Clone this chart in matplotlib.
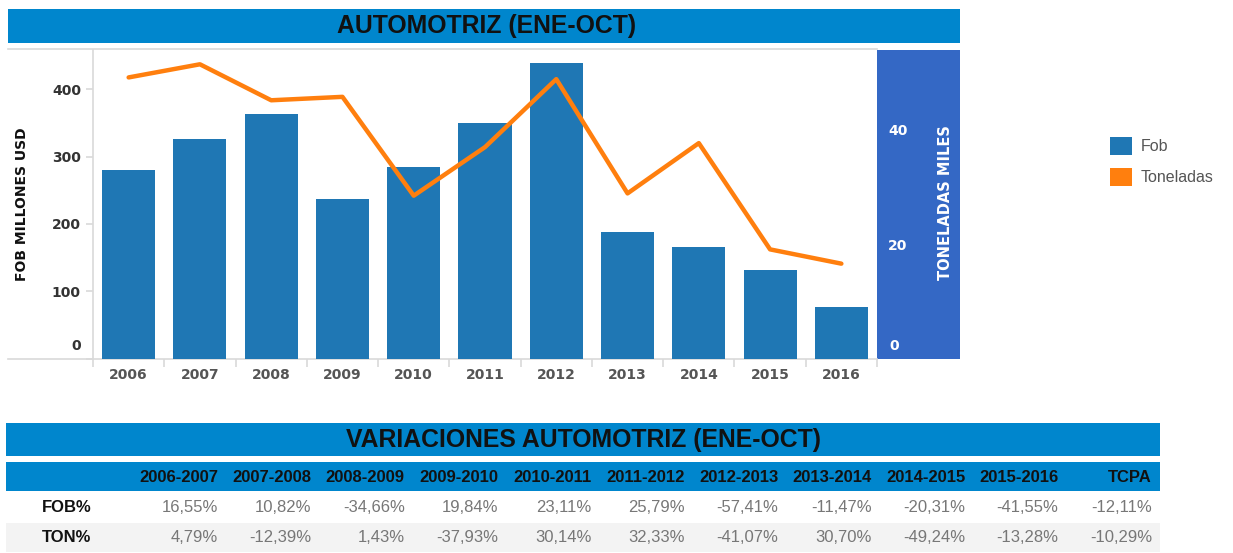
import matplotlib
matplotlib.use("Agg")
import matplotlib.pyplot as plt
from matplotlib.patches import Rectangle, Patch
from matplotlib.lines import Line2D
from matplotlib.ticker import FixedLocator, FuncFormatter

# ---------------- data ----------------
years = ['2006', '2007', '2008', '2009', '2010', '2011', '2012', '2013', '2014', '2015', '2016']
fob = [281, 327, 363, 237, 284, 350, 440, 188, 166, 132, 77]
toneladas = [49.2, 51.5, 45.2, 45.8, 28.5, 37.0, 48.9, 28.9, 37.7, 19.1, 16.6]

periods = ['2006-2007', '2007-2008', '2008-2009', '2009-2010', '2010-2011', '2011-2012',
           '2012-2013', '2013-2014', '2014-2015', '2015-2016', 'TCPA']
fob_var = ['16,55%', '10,82%', '-34,66%', '19,84%', '23,11%', '25,79%',
           '-57,41%', '-11,47%', '-20,31%', '-41,55%', '-12,11%']
ton_var = ['4,79%', '-12,39%', '1,43%', '-37,93%', '30,14%', '32,33%',
           '-41,07%', '30,70%', '-49,24%', '-13,28%', '-10,29%']
row_labels = ['FOB%', 'TON%']

left_ticks = [0, 100, 200, 300, 400]
right_ticks = [0, 20, 40]

# ---------------- figure ----------------
W, H = 1233, 553
fig = plt.figure(figsize=(W / 100, H / 100), dpi=100)
fig.patch.set_facecolor('white')


def fx(x):
    return x / W


def fy(y):
    return 1 - y / H


def frect(x0, y0, x1, y1, color, z=-1):
    r = Rectangle((fx(x0), fy(y1)), fx(x1) - fx(x0), fy(y0) - fy(y1),
                  transform=fig.transFigure, facecolor=color, edgecolor='none', zorder=z)
    fig.add_artist(r)
    return r


def fline(x0, y0, x1, y1, color='#d9d9d9', lw=1.2, z=-0.5):
    fig.add_artist(Line2D([fx(x0), fx(x1)], [fy(y0), fy(y1)], transform=fig.transFigure,
                          color=color, lw=lw, zorder=z))


BAR_BLUE = '#1F77B4'
ORANGE = '#FF7F0E'
TITLE_BLUE = '#0086CD'
PANEL_BLUE = '#3468C5'

# title bar
frect(8, 9.5, 960, 43, TITLE_BLUE)
fig.text(fx(487), fy(26.5), 'AUTOMOTRIZ (ENE-OCT)', ha='center', va='center',
         fontsize=17.8, fontweight='bold', family='Liberation Sans', color='#111111')

# right blue panel
frect(877, 50, 960, 358.5, PANEL_BLUE)

# frame lines
fline(8, 49.5, 877, 49.5)
fline(8, 359, 877, 359)

# ---------------- chart ----------------
ax = fig.add_axes([fx(93), fy(358.5), fx(877) - fx(93), fy(50) - fy(358.5)])
ax.patch.set_visible(False)
x = list(range(len(years)))
ax.bar(x, fob, width=0.745, color=BAR_BLUE, zorder=2)
ax.set_xlim(-0.5, len(years) - 0.5)
ax.set_ylim(0, 458.7)

for s in ['top', 'right', 'bottom']:
    ax.spines[s].set_visible(False)
ax.spines['left'].set_color('#d9d9d9')
ax.spines['left'].set_linewidth(1.2)

ax.set_xticks(x)
ax.set_xticklabels(years)
ax.set_xticks([i - 0.5 for i in range(len(years) + 1)], minor=True)
ax.tick_params(axis='x', which='major', length=0, pad=7, labelsize=10,
               labelcolor='#555555')
for lbl in ax.get_xticklabels():
    lbl.set_fontweight('bold')
ax.tick_params(axis='x', which='minor', length=6, color='#d9d9d9', width=1.2)

ax.yaxis.set_major_locator(FixedLocator(left_ticks))
ax.yaxis.set_major_formatter(FuncFormatter(lambda v, p: '' if v == 0 else f'{v:.0f}'))
ax.tick_params(axis='y', length=5.2, color='#d9d9d9', width=1.2, pad=3.5,
               labelsize=10, labelcolor='#333333')
for lbl in ax.get_yticklabels():
    lbl.set_fontweight('bold')
ax.annotate('0', xy=(0, 0), xycoords=('axes fraction', 'data'), xytext=(-12, 13),
            textcoords='offset pixels', ha='right', va='center', fontsize=10,
            fontweight='bold', color='#333333')

ax2 = ax.twinx()
ax2.plot(x, toneladas, color=ORANGE, lw=3.2, solid_capstyle='round',
         solid_joinstyle='round', zorder=3)
ax2.set_ylim(0, 54.0)
for s in ['top', 'left', 'bottom', 'right']:
    ax2.spines[s].set_visible(False)
ax2.yaxis.set_major_locator(FixedLocator(right_ticks))
ax2.yaxis.set_major_formatter(FuncFormatter(lambda v, p: '' if v == 0 else f'{v:.0f}'))
ax2.tick_params(axis='y', direction='in', length=0, pad=8, labelsize=10,
                labelcolor='white')
for lbl in ax2.get_yticklabels():
    lbl.set_fontweight('bold')
ax2.annotate('0', xy=(1, 0), xycoords=('axes fraction', 'data'), xytext=(12, 13),
             textcoords='offset pixels', ha='left', va='center', fontsize=10,
             fontweight='bold', color='white')

# axis titles
fig.text(fx(946), fy(203), 'TONELADAS MILES', rotation=90, ha='center', va='center',
         fontsize=10.5, fontweight='bold', color='white')
fig.text(fx(22), fy(204), 'FOB MILLONES USD', rotation=90, ha='center', va='center',
         fontsize=10, fontweight='bold', color='#111111')

# legend
fig.legend(handles=[Patch(facecolor=BAR_BLUE), Patch(facecolor=ORANGE)],
           labels=['Fob', 'Toneladas'], loc='upper left',
           bbox_to_anchor=(fx(1110), fy(137)), bbox_transform=fig.transFigure,
           frameon=False, borderpad=0, borderaxespad=0, handlelength=1.35,
           handleheight=1.35, handletextpad=0.55, labelspacing=0.8,
           prop={'family': 'Liberation Sans', 'size': 11.5}, labelcolor='#555555')

# ---------------- table ----------------
frect(6, 423, 1160, 456, TITLE_BLUE)
fig.text(fx(583), fy(439.5), 'VARIACIONES AUTOMOTRIZ (ENE-OCT)', ha='center', va='center',
         fontsize=17.8, fontweight='bold', family='Liberation Sans', color='#111111')
frect(6, 462, 1160, 491, TITLE_BLUE)
frect(6, 523, 1160, 552, '#f3f3f3')

col_right0, col_step = 218, 93.4
for i, p in enumerate(periods):
    xr = col_right0 + col_step * i
    fig.text(fx(xr), fy(477), p, ha='right', va='center', fontsize=12,
             fontweight='bold', family='Liberation Sans', color='#111111')
    fig.text(fx(xr), fy(508), fob_var[i], ha='right', va='center', fontsize=12,
             family='Liberation Sans', color='#777777')
    fig.text(fx(xr), fy(538), ton_var[i], ha='right', va='center', fontsize=12,
             family='Liberation Sans', color='#777777')
for j, r in enumerate(row_labels):
    fig.text(fx(42), fy(508 + 30 * j), r, ha='left', va='center', fontsize=12,
             fontweight='bold', family='Liberation Sans', color='#111111')

fig.savefig('out.png', dpi=100)
